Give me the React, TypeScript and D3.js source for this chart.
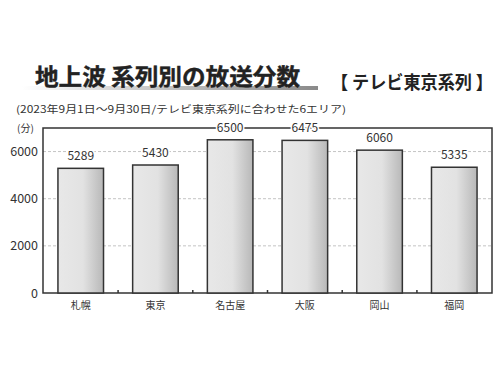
import React from "react";
import * as d3 from "d3";

const categories = ["札幌", "東京", "名古屋", "大阪", "岡山", "福岡"];
const values = [5289, 5430, 6500, 6475, 6060, 5335];
const yTicks = [0, 2000, 4000, 6000];
const yMax = 7000;

const W = 500, H = 376;
const left = 43, right = 492, top = 128, bottom = 293;

export default function App() {
  const x = d3.scaleBand<string>().domain(categories).range([left, right]).paddingInner(0.39).paddingOuter(0.2);
  const y = d3.scaleLinear().domain([0, yMax]).range([bottom, top]);
  const step = x.step();
  const boundaries = categories.slice(0, -1).map((c) => (x(c) as number) + x.bandwidth() + (step - x.bandwidth()) / 2);
  const font = "'Noto Sans CJK JP', 'Noto Sans', sans-serif";
  return (
    <svg width={W} height={H} style={{ display: "block", position: "absolute", left: 0, top: 0 }} fontFamily={font}>
      <defs>
        <linearGradient id="barg" x1="0" x2="1" y1="0" y2="0">
          <stop offset="0" stopColor="#e8e8e8" />
          <stop offset="0.55" stopColor="#e2e2e2" />
          <stop offset="1" stopColor="#b8b8b8" />
        </linearGradient>
        <linearGradient id="ulg" x1="0" x2="1" y1="0" y2="0">
          <stop offset="0" stopColor="#ffffff" />
          <stop offset="0.3" stopColor="#d8d8d8" />
          <stop offset="1" stopColor="#8a8a8a" />
        </linearGradient>
      </defs>
      <rect width={W} height={H} fill="#fff" />
      <rect x={22} y={86} width={296} height={4} fill="url(#ulg)" />
      <text x={35} y={85} fontSize={23} fontWeight="bold" fill="#222" stroke="#222" strokeWidth={0.4} textLength={265} lengthAdjust="spacingAndGlyphs">地上波 系列別の放送分数</text>
      <text x={331} y={89} fontSize={18} fontWeight="bold" fill="#222" textLength={162} lengthAdjust="spacingAndGlyphs">【 テレビ東京系列 】</text>
      <text x={16} y={113} fontSize={10} fill="#333" textLength={330} lengthAdjust="spacingAndGlyphs">(2023年9月1日～9月30日/テレビ東京系列に合わせた6エリア)</text>
      <text x={17} y={132} fontSize={10} fill="#333">(分)</text>
      {yTicks.filter((t) => t > 0).map((t) => (
        <line key={"g" + t} x1={left} x2={right} y1={y(t)} y2={y(t)} stroke="#c4c4c4" strokeWidth={1} strokeDasharray="3,2" />
      ))}
      {yTicks.map((t) => (
        <text key={"t" + t} x={38} y={y(t) + 4.5} fontSize={12.5} textAnchor="end" fill="#333">{t}</text>
      ))}
      <rect x={left} y={y(yMax)} width={right - left} height={bottom - y(yMax)} fill="none" stroke="#333" strokeWidth={1.5} />
      {boundaries.map((b, i) => (
        <line key={"b" + i} x1={b} x2={b} y1={bottom} y2={bottom - 3} stroke="#333" strokeWidth={1.5} />
      ))}
      {categories.map((c, i) => (
        <g key={c}>
          <rect x={x(c)} y={y(values[i])} width={x.bandwidth()} height={bottom - y(values[i])} fill="url(#barg)" stroke="#333" strokeWidth={1.5} />
          <text x={(x(c) as number) + x.bandwidth() / 2} y={y(values[i]) - 8} fontSize={12} textAnchor="middle" fill="#333" stroke="#fff" strokeWidth={3} paintOrder="stroke">{values[i]}</text>
          <text x={(x(c) as number) + x.bandwidth() / 2} y={309} fontSize={10} textAnchor="middle" fill="#333">{c}</text>
        </g>
      ))}
    </svg>
  );
}
